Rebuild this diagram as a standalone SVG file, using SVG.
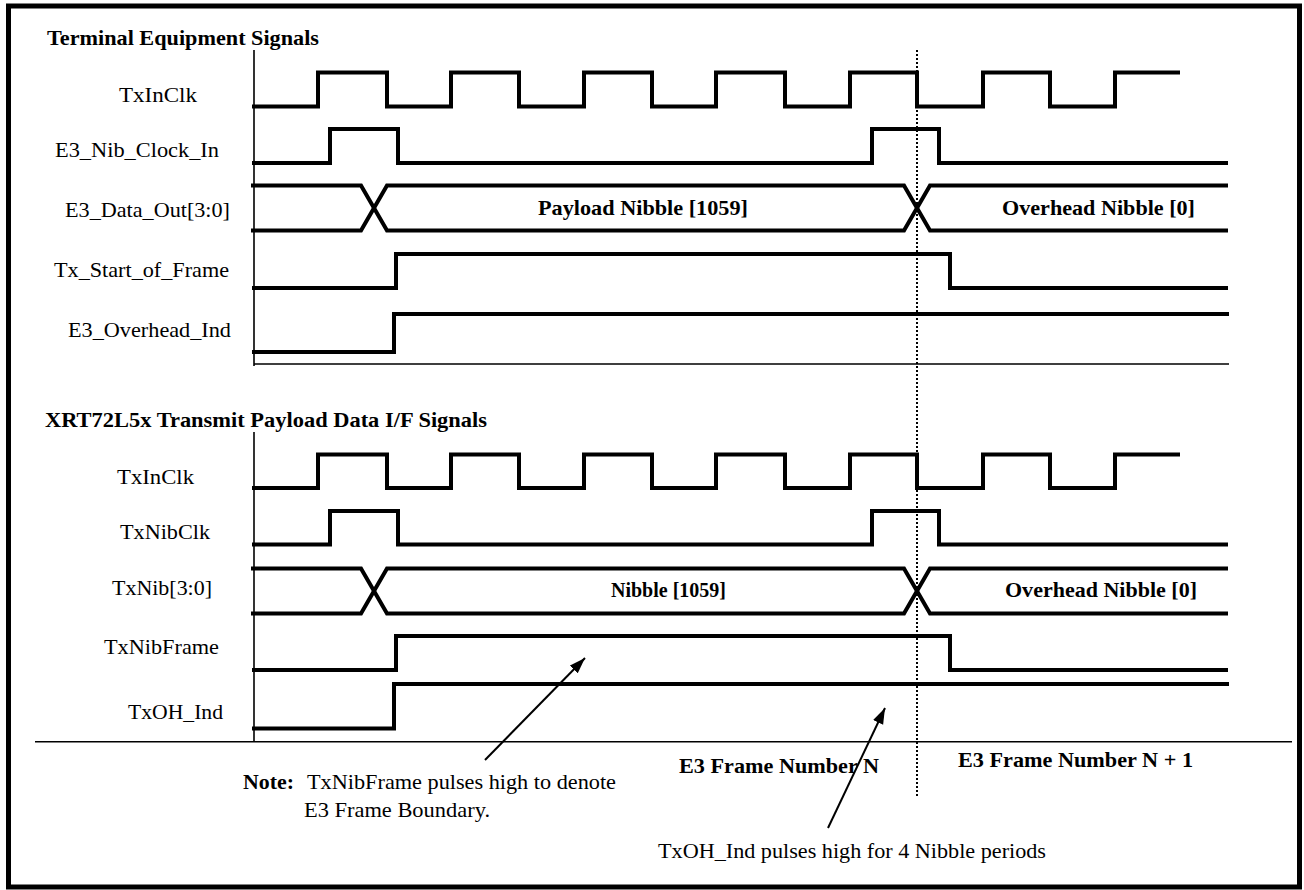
<svg xmlns="http://www.w3.org/2000/svg" width="1304" height="890" viewBox="0 0 1304 890">
<style>
text{font-family:"Liberation Serif","Times New Roman",serif;font-size:22px;fill:#000}
.b{font-weight:bold}
.w{fill:none;stroke:#000;stroke-width:4;stroke-linejoin:miter}
.ax{fill:none;stroke:#000;stroke-width:1.6}
.dot{fill:none;stroke:#000;stroke-width:2;stroke-dasharray:2 2}
.arr{fill:none;stroke:#000;stroke-width:2}
</style>
<defs>
<marker id="ah" markerUnits="userSpaceOnUse" markerWidth="17" markerHeight="12" refX="16" refY="6" orient="auto">
<path d="M0,0.5 L16,6 L0,11.5 z" fill="#000"/>
</marker>
</defs>
<rect id="frame" x="8.5" y="6" width="1291" height="881" fill="#fff" stroke="#000" stroke-width="5"/>

<g id="section-terminal">
<text class="b" x="47" y="45" textLength="272" lengthAdjust="spacingAndGlyphs">Terminal Equipment Signals</text>
<path class="ax" d="M254,50 V366 M254,364 H1229"/>
</g>
<g id="sig-txinclk-1">
<text x="119" y="102" textLength="78" lengthAdjust="spacingAndGlyphs">TxInClk</text>
<path class="w" d="M252,106.5 H318 V72.5 H387 V106.5 H451 V72.5 H519 V106.5 H584 V72.5 H652 V106.5 H716 V72.5 H785 V106.5 H850 V72.5 H917 V106.5 H983 V72.5 H1050 V106.5 H1115 V72.5 H1180"/>
</g>
<g id="sig-e3nibclockin">
<text x="55" y="157" textLength="164" lengthAdjust="spacingAndGlyphs">E3_Nib_Clock_In</text>
<path class="w" d="M252,163 H330 V129 H398 V163 H872 V129 H939 V163 H1228"/>
</g>
<g id="sig-e3dataout">
<text x="65" y="217" textLength="165" lengthAdjust="spacingAndGlyphs">E3_Data_Out[3:0]</text>
<path class="w" d="M251,185.5 H361 L387,230.5 H904 L930,185.5 H1228"/>
<path class="w" d="M251,230.5 H361 L387,185.5 H904 L930,230.5 H1228"/>
<text class="b" x="538" y="215" textLength="210" lengthAdjust="spacingAndGlyphs">Payload Nibble [1059]</text>
<text class="b" x="1002" y="215" textLength="193" lengthAdjust="spacingAndGlyphs">Overhead Nibble [0]</text>
</g>
<g id="sig-txstartofframe">
<text x="54" y="277" textLength="175" lengthAdjust="spacingAndGlyphs">Tx_Start_of_Frame</text>
<path class="w" d="M252,288 H396 V254 H950 V288 H1228"/>
</g>
<g id="sig-e3overheadind">
<text x="68" y="337" textLength="163" lengthAdjust="spacingAndGlyphs">E3_Overhead_Ind</text>
<path class="w" d="M252,352 H394 V314 H1229"/>
</g>

<g id="section-xrt">
<text class="b" x="45" y="427" textLength="442" lengthAdjust="spacingAndGlyphs">XRT72L5x Transmit Payload Data I/F Signals</text>
<path class="ax" d="M254,432 V742"/>
<path class="ax" stroke-width="2" d="M35,741.7 H1292"/>
</g>
<g id="sig-txinclk-2">
<text x="117" y="484" textLength="77" lengthAdjust="spacingAndGlyphs">TxInClk</text>
<path class="w" d="M252,488 H318 V454.5 H387 V488 H451 V454.5 H519 V488 H584 V454.5 H652 V488 H716 V454.5 H785 V488 H850 V454.5 H917 V488 H983 V454.5 H1050 V488 H1115 V454.5 H1180"/>
</g>
<g id="sig-txnibclk">
<text x="120" y="539" textLength="90" lengthAdjust="spacingAndGlyphs">TxNibClk</text>
<path class="w" d="M252,544.5 H330 V511 H398 V544.5 H872 V511 H939 V544.5 H1228"/>
</g>
<g id="sig-txnib">
<text x="112" y="595" textLength="100" lengthAdjust="spacingAndGlyphs">TxNib[3:0]</text>
<path class="w" d="M251,568.5 H361 L387,613.5 H904 L930,568.5 H1228"/>
<path class="w" d="M251,613.5 H361 L387,568.5 H904 L930,613.5 H1228"/>
<text class="b" x="611" y="597" textLength="115" lengthAdjust="spacingAndGlyphs">Nibble [1059]</text>
<text class="b" x="1005" y="597" textLength="192" lengthAdjust="spacingAndGlyphs">Overhead Nibble [0]</text>
</g>
<g id="sig-txnibframe">
<text x="104" y="654" textLength="115" lengthAdjust="spacingAndGlyphs">TxNibFrame</text>
<path class="w" d="M252,670 H396 V636 H950 V670 H1228"/>
</g>
<g id="sig-txohind">
<text x="128" y="719" textLength="95" lengthAdjust="spacingAndGlyphs">TxOH_Ind</text>
<path class="w" d="M252,728.5 H394 V684 H1229"/>
</g>

<g id="frame-boundary">
<path class="dot" d="M917,50 V797"/>
<text class="b" x="679" y="773" textLength="200" lengthAdjust="spacingAndGlyphs">E3 Frame Number N</text>
<text class="b" x="958" y="767" textLength="235" lengthAdjust="spacingAndGlyphs">E3 Frame Number N + 1</text>
</g>

<g id="note-frame">
<text class="b" x="243" y="789" textLength="51" lengthAdjust="spacingAndGlyphs">Note:</text>
<text x="307" y="789" textLength="309" lengthAdjust="spacingAndGlyphs">TxNibFrame pulses high to denote</text>
<text x="304" y="817" textLength="186" lengthAdjust="spacingAndGlyphs">E3 Frame Boundary.</text>
</g>
<g id="note-ohind">
<text x="658" y="858" textLength="388" lengthAdjust="spacingAndGlyphs">TxOH_Ind pulses high for 4 Nibble periods</text>
</g>

<g id="connectors">
<path class="arr" d="M485,760 L585,658" marker-end="url(#ah)"/>
<path class="arr" d="M828,828 L885,708" marker-end="url(#ah)"/>
</g>
</svg>
